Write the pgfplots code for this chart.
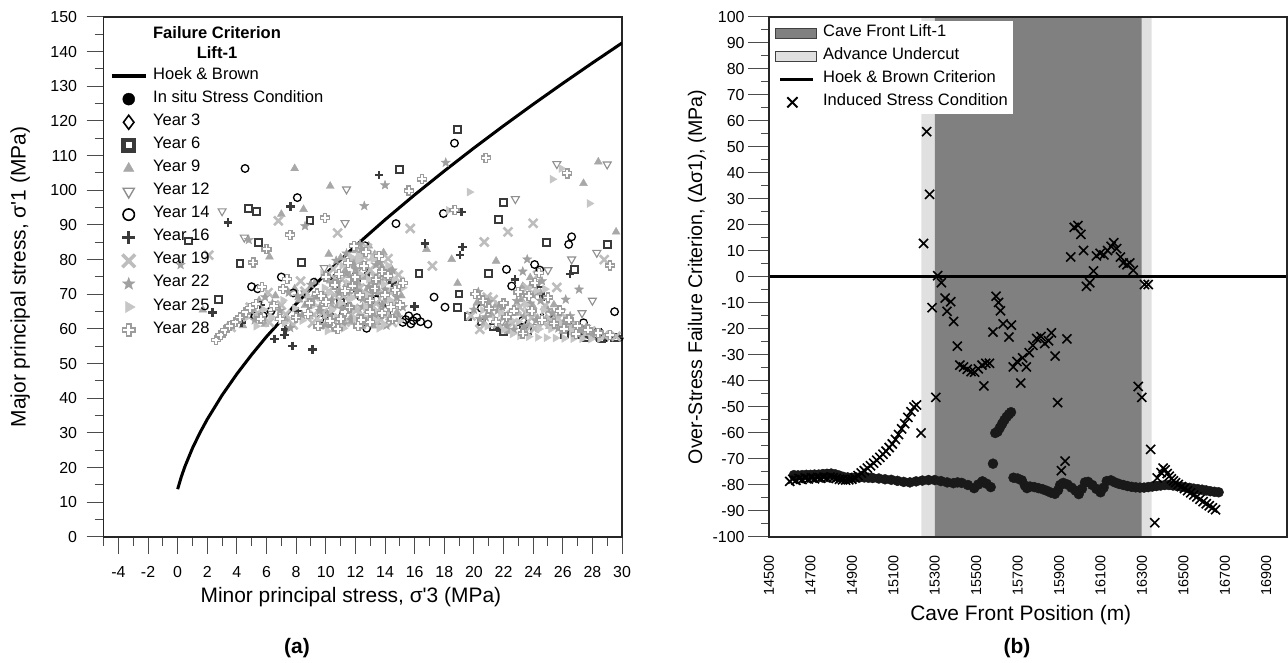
\documentclass[border=0pt]{standalone}
\usepackage{fontspec}
\setmainfont{Liberation Sans}
\usepackage{pgfplots}
\pgfplotsset{compat=1.18}
\usetikzlibrary{plotmarks}
\definecolor{cA}{HTML}{3A3A3A}
\definecolor{cNine}{HTML}{A8A8A8}
\definecolor{cTwelve}{HTML}{8F8F8F}
\definecolor{cNineteen}{HTML}{BDBDBD}
\definecolor{cTwentyTwo}{HTML}{A0A0A0}
\definecolor{cTwentyFive}{HTML}{C6C6C6}
\definecolor{cTwentyEight}{HTML}{9C9C9C}
\definecolor{cave}{HTML}{808080}
\definecolor{under}{HTML}{E0E0E0}

\pgfdeclareplotmark{fstar}{%
  \pgfpathmoveto{\pgfpointpolar{90}{\pgfplotmarksize}}%
  \pgfpathlineto{\pgfpointpolar{126}{0.42\pgfplotmarksize}}%
  \pgfpathlineto{\pgfpointpolar{162}{\pgfplotmarksize}}%
  \pgfpathlineto{\pgfpointpolar{198}{0.42\pgfplotmarksize}}%
  \pgfpathlineto{\pgfpointpolar{234}{\pgfplotmarksize}}%
  \pgfpathlineto{\pgfpointpolar{270}{0.42\pgfplotmarksize}}%
  \pgfpathlineto{\pgfpointpolar{306}{\pgfplotmarksize}}%
  \pgfpathlineto{\pgfpointpolar{342}{0.42\pgfplotmarksize}}%
  \pgfpathlineto{\pgfpointpolar{18}{\pgfplotmarksize}}%
  \pgfpathlineto{\pgfpointpolar{54}{0.42\pgfplotmarksize}}%
  \pgfpathclose
  \pgfusepathqfillstroke}
\pgfdeclareplotmark{ocross}{%
  \pgfpathmoveto{\pgfqpoint{-0.36\pgfplotmarksize}{\pgfplotmarksize}}%
  \pgfpathlineto{\pgfqpoint{0.36\pgfplotmarksize}{\pgfplotmarksize}}%
  \pgfpathlineto{\pgfqpoint{0.36\pgfplotmarksize}{0.36\pgfplotmarksize}}%
  \pgfpathlineto{\pgfqpoint{\pgfplotmarksize}{0.36\pgfplotmarksize}}%
  \pgfpathlineto{\pgfqpoint{\pgfplotmarksize}{-0.36\pgfplotmarksize}}%
  \pgfpathlineto{\pgfqpoint{0.36\pgfplotmarksize}{-0.36\pgfplotmarksize}}%
  \pgfpathlineto{\pgfqpoint{0.36\pgfplotmarksize}{-\pgfplotmarksize}}%
  \pgfpathlineto{\pgfqpoint{-0.36\pgfplotmarksize}{-\pgfplotmarksize}}%
  \pgfpathlineto{\pgfqpoint{-0.36\pgfplotmarksize}{-0.36\pgfplotmarksize}}%
  \pgfpathlineto{\pgfqpoint{-\pgfplotmarksize}{-0.36\pgfplotmarksize}}%
  \pgfpathlineto{\pgfqpoint{-\pgfplotmarksize}{0.36\pgfplotmarksize}}%
  \pgfpathlineto{\pgfqpoint{-0.36\pgfplotmarksize}{0.36\pgfplotmarksize}}%
  \pgfpathclose
  \pgfusepathqfillstroke}

\pgfplotsset{
  myaxis/.style={
    scale only axis, tick align=outside, tick pos=left,
    axis line style={line width=1.1bp, black!85},
    tick style={line width=1bp, black!70},
    tick label style={font=\fontsize{16}{19}\selectfont},
    /pgf/number format/assume math mode=true,
    /pgf/number format/1000 sep={},
    label style={font=\fontsize{21}{25}\selectfont},
    legend cell align=left,
  }
}

\begin{document}
\begin{tikzpicture}
\useasboundingbox (0bp,0bp) rectangle (1288bp,663bp);

%% ---------------- (a) ----------------
\begin{axis}[myaxis,
  at={(103.6bp,126bp)}, anchor=south west,
  width=518.4bp, height=520bp,
  xmin=-5, xmax=30, ymin=0, ymax=150,
  xtick={-4,-2,...,30}, minor xtick={-5,-3,...,29},
  ytick={0,10,...,150}, minor ytick={5,15,...,145},
  major tick length=17bp, minor tick length=9bp,
  xticklabel shift=9bp, yticklabel shift=6bp,
  xlabel={Minor principal stress, σ\textquotesingle 3 (MPa)},
  ylabel={Major principal stress, σ\textquotesingle 1 (MPa)},
  xlabel style={at={(axis description cs:0.477,-0.115)}, anchor=center},
  ylabel style={at={(axis description cs:-0.161,0.5)}, anchor=center},
  legend style={at={(axis description cs:0.0123,0.9087)}, anchor=north west,
    draw=none, fill=none, inner sep=0pt, outer sep=0pt, row sep=0bp, column sep=5.7bp,
    font=\fontsize{16.6}{19}\selectfont,
    nodes={inner sep=0pt, text height=14.55bp, text depth=8.55bp}},
  legend image code/.code={\draw[mark repeat=2,mark phase=2,#1]
     plot coordinates {(0bp,0bp) (17bp,0bp) (34bp,0bp)};},
]
\addlegendimage{black, line width=3.5bp}
\addlegendentry{Hoek \& Brown}

% In situ
\addplot[only marks, mark=*, mark size=2.8bp, black, legend image post style={mark size=6bp}] coordinates {
(28.4,57.0) (28.9,57.1) (29.4,57.2) (29.9,57.3)};
\addlegendentry{In situ Stress Condition}

% Year 3
\addplot[only marks, mark=diamond, mark size=2.2bp, black, line width=0.9bp,
  legend image post style={mark size=7bp, line width=1.6bp}] coordinates {
(24.6,64.1) (25.0,63.0) (25.4,62.1) (25.8,61.4) (26.2,60.8) (26.6,60.4) (27.0,60.1)
(27.4,59.9) (27.8,59.7) (28.2,59.6) (28.6,59.5) (12.2,69.0) (13.1,64.5) (10.8,71.5)};
\addlegendentry{Year 3}

% Year 6
\addplot[only marks, mark=square*, mark size=3.4bp, draw=cA, fill=white, line width=2bp,
  legend image post style={mark size=5.2bp, line width=4.2bp}] coordinates {
(18.9,117.6) (15.0,106.1) (22.0,96.4) (21.65,91.6) (24.9,84.9) (19.0,70.1) (21.0,76.0)
(18.9,66.2) (19.6,63.6) (20.5,62.0) (21.3,60.6) (22.0,59.3) (16.3,76.0) (24.5,71.2)
(26.8,77.2) (4.77,94.8) (5.33,94.0) (8.94,91.2) (5.45,84.9) (0.72,85.4) (4.21,79.0)
(8.38,79.2) (2.75,68.4) (29.0,84.3) (12.1,74.8) (13.3,70.6) (11.0,67.8) (14.1,65.6)
(10.2,63.9) (13.6,62.4) (26.1,58.4) (27.6,57.4) (28.6,57.3) (29.6,57.5) (23.6,59.4)};
\addlegendentry{Year 6}

% Year 9
\addplot[only marks, mark=triangle*, mark size=4.6bp, cNine, legend image post style={mark size=6bp}] coordinates {
(7.9,106.3) (10.3,101.2) (8.5,94.5) (7.0,93.1) (6.2,80.8) (10.2,81.6) (18.5,80.1)
(21.5,79.6) (18.9,73.2) (27.4,102.0) (28.4,108.2) (1.7,65.5) (29.6,88.0) (16.8,83.0)
(10.4,66.5) (10.9,71.2) (11.3,76.8) (11.7,63.4) (12.1,69.9) (12.4,79.5) (12.8,65.2)
(13.1,73.6) (13.5,61.8) (13.8,77.9) (14.1,68.3) (14.6,72.7) (11.0,60.5) (12.6,74.9)
(13.3,81.5) (5.5,68.2) (6.8,63.1) (7.9,71.6) (8.6,66.8) (9.3,73.5) (4.4,61.0)
(20.2,67.5) (21.2,64.0) (22.4,62.0) (23.2,68.5) (23.8,74.8) (24.3,63.1) (25.1,60.8)
(26.2,62.5) (27.1,59.4) (28.3,58.6) (29.0,58.2)
(9.7,61.5) (9.9,68.2) (10.3,73.9) (10.6,59.8) (10.8,66.7) (11.0,80.5) (11.4,72.9)
(11.8,61.9) (12.0,82.6) (12.3,64.4) (12.7,70.8) (12.9,84.0) (13.2,60.9) (13.6,70.5)
(13.9,82.0) (14.3,63.3) (14.4,77.6) (14.8,64.8) (15.1,69.6) (11.6,75.4) (10.1,64.1)
(13.1,67.9) (12.2,73.1) (14.0,74.8)
(5.9,61.4) (6.6,69.6) (7.4,62.8) (8.2,68.4) (8.9,63.5) (9.4,69.1)
(20.7,61.6) (21.5,66.9) (22.3,59.4) (22.8,64.6) (23.3,72.3) (23.7,61.2) (24.0,66.5)
(24.5,70.4) (24.9,63.1) (25.4,67.0) (26.0,59.3) (26.7,61.5) (27.5,58.4)};
\addlegendentry{Year 9}

% Year 12
\addplot[only marks, mark=triangle, mark size=4.6bp, cTwelve, line width=1.1bp, mark options={rotate=180},
  legend image post style={mark size=6.5bp, line width=1.4bp}] coordinates {
(11.4,100.3) (3.0,94.0) (11.3,90.6) (4.5,86.4) (25.6,107.6) (22.8,97.5) (26.6,80.1)
(25.0,77.0) (28.3,82.0) (28.0,68.2) (27.3,64.6) (29.0,107.5) (8.6,70.3) (6.3,64.4)
(12.9,66.5) (10.8,62.2) (14.2,74.3) (21.9,62.1) (24.2,60.6) (9.9,77.6)};
\addlegendentry{Year 12}

% Year 14
\addplot[only marks, mark=o, mark size=3.8bp, black, line width=1.3bp,
  legend image post style={mark size=5.7bp, line width=1.6bp}] coordinates {
(4.55,106.3) (8.08,97.9) (18.69,113.6) (17.94,93.3) (14.74,90.4) (12.65,84.0) (22.2,77.2)
(24.1,78.6) (24.45,77.0) (22.55,72.4) (26.6,86.6) (26.4,84.4) (17.31,69.2) (18.05,66.3)
(16.9,61.4) (12.76,60.2) (15.4,62.7) (15.6,63.8) (15.9,62.4) (16.15,63.3) (15.75,61.5)
(15.2,61.9) (16.4,62.1) (27.4,61.8) (4.77,64.2) (5.22,63.8) (5.78,63.8) (4.99,72.2)
(5.4,71.6) (7.0,75.0) (7.8,70.4) (9.6,62.8) (10.0,64.2) (10.4,63.4) (11.5,66.3)
(29.5,65.0) (13.4,68.4) (20.5,66.0) (23.3,62.5) (12.5,76.5) (9.2,73.5) (26.5,60.5) (6.3,65.2)};
\addlegendentry{Year 14}

% Year 16
\addplot[only marks, mark=+, mark size=4.3bp, cA, line width=2.6bp,
  legend image post style={mark size=6.5bp, line width=3.5bp}] coordinates {
(3.4,90.8) (7.63,95.3) (13.6,104.4) (16.7,84.7) (19.24,83.7) (19.06,81.3) (22.78,74.2)
(26.5,75.9) (24.7,69.3) (19.17,93.8) (2.35,64.8) (6.55,57.1) (7.2,58.3) (7.3,59.9)
(7.75,55.1) (9.1,54.0) (10.6,74.6) (11.9,71.8) (12.9,76.2) (9.0,67.3) (8.1,65.2)
(13.8,66.9) (14.5,73.4) (11.2,64.6) (23.1,61.2) (21.6,60.3) (25.3,63.5) (27.3,57.6)
(27.8,57.5) (28.3,57.4) (28.8,57.5) (29.3,57.6) (29.8,57.7) (16.0,66.5) (5.6,66.9) (4.3,61.8)};
\addlegendentry{Year 16}

% Year 19
\addplot[only marks, mark=x, mark size=6.2bp, cNineteen, line width=2.6bp,
  legend image post style={mark size=9bp, line width=3.5bp}] coordinates {
(6.8,91.2) (10.8,87.7) (2.1,81.3) (15.7,89.0) (20.7,85.1) (17.2,78.2) (25.6,72.0)
(22.3,88.0) (28.8,80.0) (24.0,90.5)
(10.1,62.4) (10.6,69.8) (11.1,74.3) (11.5,66.1) (11.9,80.2) (12.3,71.8) (12.7,62.9)
(13.0,77.1) (13.4,67.4) (13.7,73.2) (14.0,63.8) (14.4,70.5) (14.9,75.6) (12.1,65.5) (13.2,81.0)
(4.9,66.3) (6.1,70.5) (7.3,64.2) (8.3,73.8) (9.1,61.7) (9.7,69.4) (3.6,60.5)
(19.8,63.8) (20.9,69.2) (21.6,61.5) (22.9,65.6) (23.6,71.9) (24.1,60.2) (24.8,66.7)
(25.7,63.1) (26.5,60.6) (27.6,58.9) (28.8,58.1) (29.6,57.9)
(9.8,64.6) (10.2,70.9) (10.5,77.3) (10.9,63.1) (11.2,69.6) (11.5,79.2) (11.9,65.9)
(12.4,61.3) (12.6,80.9) (12.9,68.8) (13.3,75.0) (13.5,65.2) (13.9,70.1) (14.2,80.3)
(14.6,67.6) (15.0,73.6) (10.7,74.2) (12.1,76.6) (13.7,62.7) (11.3,62.0) (14.5,61.9) (12.8,83.3)
(5.4,64.6) (6.2,61.9) (7.0,66.9) (7.8,61.2) (8.6,70.9) (9.2,64.1)
(20.4,59.9) (21.3,68.5) (22.1,64.1) (22.6,61.6) (23.1,66.3) (23.5,59.3) (23.9,63.2)
(24.3,75.5) (24.7,61.8) (25.2,62.6) (25.9,64.6) (26.8,59.5) (27.9,59.4)};
\addlegendentry{Year 19}

% Year 22
\addplot[only marks, mark=fstar, mark size=4.8bp, cTwentyTwo, line width=0.4bp,
  legend image post style={mark size=6.5bp}] coordinates {
(8.6,89.7) (4.8,85.7) (0.2,78.5) (18.1,108.0) (23.3,76.6) (27.1,71.4) (20.3,70.7)
(21.0,67.8) (12.6,95.5) (14.0,101.5) (12.3,84.5) (26.2,68.5) (23.6,80.1)
(10.3,64.8) (10.8,73.5) (11.2,61.4) (11.6,70.1) (12.0,77.3) (12.5,66.4) (12.9,72.2)
(13.3,63.6) (13.6,79.1) (14.0,71.4) (14.3,65.9) (14.8,69.2) (11.4,81.8)
(5.2,62.5) (6.4,67.4) (7.6,60.3) (8.1,69.5) (9.0,72.8) (9.6,65.2)
(20.4,62.9) (21.9,66.3) (22.7,59.8) (23.4,63.7) (24.0,69.8) (24.6,73.8) (25.3,64.6)
(26.0,61.4) (27.2,59.6) (28.0,58.4)
(9.6,66.4) (10.0,61.0) (10.4,68.3) (10.7,79.7) (11.1,65.9) (11.4,76.1) (11.7,62.7)
(12.1,71.1) (12.4,83.0) (12.8,61.5) (13.1,70.3) (13.4,78.5) (13.8,67.1) (14.1,61.0)
(14.5,76.9) (14.9,63.4) (15.2,66.3) (10.9,70.4) (12.5,68.7) (13.6,73.9) (11.9,78.7)
(5.0,65.2) (5.9,69.2) (6.9,65.3) (7.5,70.5) (8.4,64.0) (9.1,68.9)
(20.0,65.6) (20.8,63.4) (21.6,65.3) (22.2,61.0) (22.9,68.1) (23.4,60.7) (23.8,67.4)
(24.2,62.5) (24.5,68.2) (25.0,65.5) (25.7,60.2) (26.5,63.7) (27.6,60.7)};
\addlegendentry{Year 22}

% Year 25
\addplot[only marks, mark=triangle*, mark size=4.6bp, cTwentyFive, mark options={rotate=-90},
  legend image post style={mark size=6.5bp}] coordinates {
(25.9,106.3) (25.3,103.2) (18.3,94.2) (19.7,99.5) (27.8,96.2)
(10.2,70.4) (10.7,63.2) (11.1,78.3) (11.6,68.6) (12.0,63.0) (12.4,75.6) (12.8,69.8)
(13.2,65.4) (13.5,75.0) (13.9,61.2) (14.2,78.3) (14.7,66.9) (15.2,71.9) (12.2,81.0)
(4.6,63.2) (5.8,65.6) (7.1,68.3) (8.4,62.4) (9.2,66.9) (9.8,76.1)
(20.6,65.4) (21.4,62.7) (22.0,59.8) (22.6,58.6) (23.1,58.0) (23.7,57.8) (24.3,57.6)
(24.9,57.5) (25.5,57.4) (26.1,57.3) (26.7,57.2) (27.3,57.2) (27.9,57.1) (28.5,57.2)
(23.5,67.0) (24.2,71.0) (24.7,65.5) (25.6,62.2)
(9.9,71.9) (10.1,59.4) (10.4,65.6) (10.8,76.0) (11.2,60.2) (11.5,73.2) (11.8,69.0)
(12.2,79.9) (12.5,63.7) (12.9,74.4) (13.2,80.1) (13.6,60.2) (13.9,72.9) (14.3,68.4)
(14.6,74.3) (15.0,62.4) (11.0,67.5) (12.7,66.3) (13.3,62.6) (14.0,64.5) (11.7,80.8)
(5.3,60.8) (6.3,63.5) (7.2,61.7) (7.9,66.0) (8.8,69.0) (9.5,62.3)
(20.9,60.8) (21.8,64.5) (22.5,62.6) (23.0,62.1) (23.6,65.0) (23.9,72.4) (24.4,60.0)
(24.8,71.5) (25.2,60.0) (25.9,61.2) (26.6,59.4)};
\addlegendentry{Year 25}

% Year 28
\addplot[only marks, mark=ocross, mark size=4.5bp, draw=cTwentyEight, fill=white, line width=1.4bp,
  legend image post style={mark size=6.2bp, line width=1.8bp}] coordinates {
(20.8,109.4) (16.5,103.2) (15.6,99.9) (26.3,104.9) (9.95,92.1) (7.6,87.2) (5.1,79.2)
(6.0,83.0) (18.7,94.3) (29.2,78.3)
(2.6,56.8) (2.9,58.2) (3.2,59.6) (3.5,60.8) (3.9,62.0) (4.2,63.3) (4.6,64.8) (4.9,66.0) (5.3,67.2)
(10.0,67.8) (10.5,61.1) (10.9,75.9) (11.3,65.0) (11.8,72.5) (12.2,60.8) (12.6,78.1)
(13.0,68.2) (13.4,74.3) (13.8,64.5) (14.2,75.4) (14.5,62.8) (15.0,67.0) (11.5,79.0) (13.0,62.0)
(5.7,72.1) (6.9,62.9) (7.4,74.4) (8.8,64.3) (9.4,70.2)
(20.1,70.1) (21.0,65.9) (22.2,63.4) (23.0,70.6) (23.9,65.2) (24.4,76.2) (25.0,69.1)
(25.8,65.3) (26.4,62.7) (27.0,60.9) (27.7,59.8) (28.4,58.9) (29.2,58.3)
(9.7,69.5) (10.0,75.1) (10.3,62.4) (10.6,72.8) (11.0,62.9) (11.3,71.0) (11.6,66.2)
(12.0,74.9) (12.3,69.7) (12.7,82.2) (13.0,65.0) (13.3,71.7) (13.6,81.1) (14.0,69.9)
(14.4,66.3) (14.7,71.2) (15.2,73.3) (10.8,60.0) (12.4,62.7) (13.8,76.6) (11.9,84.0)
(5.6,63.0) (6.5,66.6) (7.1,71.6) (8.0,63.3) (8.9,67.4) (9.5,60.8)
(20.6,68.2) (21.5,62.0) (22.0,67.4) (22.7,65.3) (23.3,58.7) (23.7,69.6) (24.1,73.2)
(24.6,62.6) (25.4,61.6) (26.1,60.1) (26.9,58.5)};
\addlegendentry{Year 28}

% Hoek & Brown curve
\addplot[black, line width=3bp, forget plot] coordinates {
(0,13.80) (0.25,17.41) (0.5,20.45) (1,25.62) (1.5,30.03) (2,33.96) (3,40.91) (4,47.04)
(5,52.62) (6,57.80) (8,67.28) (10,75.92) (12,83.95) (14,91.51) (16,98.70) (18,105.57)
(20,112.20) (22,118.60) (24,124.81) (26,130.85) (28,136.74) (30,142.50)};
\end{axis}

\node[font=\fontsize{16.6}{20}\selectfont\bfseries, align=center] at (217bp,620bp)
  {Failure Criterion\\Lift-1};
\node[font=\fontsize{21}{25}\selectfont\bfseries] at (297bp,15bp) {(a)};

%% ---------------- (b) ----------------
\begin{axis}[myaxis,
  at={(769bp,126bp)}, anchor=south west,
  width=518bp, height=520bp,
  xmin=14500, xmax=17000, ymin=-100, ymax=100,
  xtick=\empty, minor xtick={14500,14600,...,17000},
  ytick={-100,-90,...,100}, minor ytick={-95,-85,...,95},
  major tick length=21bp, minor tick length=8bp,
  axis on top,
  xlabel={Cave Front Position (m)},
  ylabel={Over-Stress Failure Criterion, (Δσ1), (MPa)},
  xlabel style={at={(axis description cs:0.486,-0.15)}, anchor=center},
  ylabel style={at={(axis description cs:-0.139,0.5)}, anchor=center, font=\fontsize{19.7}{23}\selectfont},
  legend style={at={(axis description cs:0.0019,0.9914)}, anchor=north west,
    draw=none, fill=white, inner xsep=5bp, inner ysep=0bp, outer sep=0pt, row sep=0bp, column sep=6.3bp,
    font=\fontsize{16.6}{19}\selectfont,
    nodes={inner sep=0pt, text height=14.55bp, text depth=8.55bp}},
  legend image code/.code={\draw[mark repeat=2,mark phase=2,#1]
     plot coordinates {(5bp,0bp) (17bp,0bp) (38bp,0bp)};},
]
\addplot[fill=under, draw=none, forget plot] coordinates {
(15235,-100) (15235,100) (16346,100) (16346,-100) (15235,-100)};
\addplot[fill=cave, draw=none,
  legend image code/.code={\draw[fill=cave, draw=black!75, line width=0.8bp] (0bp,-5bp) rectangle (41bp,5bp);}]
  coordinates {(15300,-100) (15300,100) (16298,100) (16298,-100) (15300,-100)};
\addlegendentry{Cave Front Lift-1}
\addlegendimage{legend image code/.code={\draw[fill=under, draw=black!75, line width=0.8bp] (0bp,-5bp) rectangle (41bp,5bp);}}
\addlegendentry{Advance Undercut}
\addplot[black, line width=3bp] coordinates {(14500,0) (17000,0)};
\addlegendentry{Hoek \& Brown Criterion}

% in situ (dots)
\addplot[only marks, mark=*, mark size=5bp, black!90, forget plot] coordinates {
(14620,-76.2) (14640,-76.3) (14660,-76.2) (14680,-76.1) (14700,-76.1) (14720,-76.0)
(14740,-76.0) (14760,-75.8) (14780,-75.7) (14800,-75.6) (14820,-75.9) (14840,-76.4)
(14860,-76.9) (14880,-77.1) (14900,-77.2) (14920,-77.1) (14940,-77.0) (14960,-77.1)
(14980,-77.2) (15000,-77.3) (15030,-77.5) (15060,-77.8) (15090,-78.0) (15120,-78.4)
(15150,-78.8) (15180,-79.0) (15210,-78.6) (15240,-78.3) (15270,-78.1) (15300,-78.1)
(15330,-78.5) (15360,-79.0) (15390,-79.3) (15410,-79.0) (15430,-79.2) (15460,-80.0)
(15490,-81.2) (15510,-79.8) (15530,-78.6) (15550,-79.5) (15570,-80.8)
(15581,-71.8)
(15592,-60.0) (15603,-59.5) (15614,-58.0) (15625,-56.5) (15636,-55.0) (15647,-53.8)
(15658,-52.8) (15668,-52.0)
(15680,-77.2) (15700,-77.5) (15720,-78.2) (15735,-80.2) (15745,-81.2) (15760,-80.6)
(15780,-80.8) (15800,-81.2) (15820,-81.6) (15840,-82.2) (15860,-82.9) (15880,-83.4)
(15895,-82.0) (15905,-80.0) (15920,-79.2) (15940,-79.8) (15960,-81.0) (15980,-82.2)
(15995,-83.5) (16010,-81.5) (16025,-79.0) (16040,-78.8) (16060,-80.0) (16080,-81.5)
(16100,-82.8) (16115,-81.0) (16130,-78.5) (16150,-78.2) (16170,-79.0) (16190,-79.6)
(16210,-80.0) (16230,-80.4) (16250,-80.7) (16270,-80.9) (16290,-81.0) (16310,-81.0)
(16330,-80.8) (16350,-80.6) (16370,-80.4) (16390,-80.2) (16410,-80.0) (16430,-80.0)
(16450,-80.2) (16470,-80.4) (16490,-80.7) (16510,-80.9) (16530,-81.1) (16550,-81.4)
(16570,-81.6) (16590,-81.8) (16610,-82.1) (16630,-82.4) (16650,-82.6) (16670,-82.8)};

% induced
\addplot[only marks, mark=x, mark size=6.4bp, black, line width=1.6bp,
  legend image post style={mark size=7.2bp, line width=2bp}] coordinates {
(14600,-78.6) (14615,-77.8) (14630,-78.2) (14645,-77.5) (14660,-77.9) (14675,-77.3)
(14690,-77.7) (14705,-77.2) (14720,-77.6) (14735,-77.1) (14750,-77.4) (14765,-77.0)
(14780,-77.3) (14795,-77.0) (14810,-77.2) (14825,-77.5) (14840,-77.8) (14855,-78.0)
(14870,-78.1) (14885,-78.0) (14900,-77.8) (14915,-77.3)
(14930,-76.4) (14945,-75.4) (14960,-74.5) (14975,-73.5) (14990,-72.6) (15005,-71.6)
(15020,-70.5) (15035,-69.4) (15050,-68.2) (15065,-67.0) (15080,-65.6) (15095,-64.2)
(15110,-62.5) (15125,-60.6) (15140,-58.4) (15155,-56.4) (15170,-54.0) (15185,-51.8)
(15200,-50.0) (15212,-49.2)
(15234,-60.0) (15246,12.9) (15261,55.9) (15275,31.8) (15287,-11.8) (15305,-46.3)
(15314,0.5) (15332,-2.2) (15350,-8.1) (15359,-13.2) (15377,-9.5) (15391,-17.1)
(15409,-26.6) (15421,-33.9) (15439,-34.6) (15457,-35.5) (15475,-36.4) (15492,-36.6)
(15510,-35.3) (15528,-33.9) (15546,-33.2) (15564,-33.2) (15537,-41.9) (15581,-21.2)
(15596,-7.4) (15608,-9.8) (15617,-13.0) (15630,-18.0) (15670,-18.5) (15658,-23.1)
(15679,-34.6) (15697,-32.5) (15715,-40.8) (15724,-31.1) (15742,-34.6) (15756,-29.1)
(15774,-26.3) (15792,-23.6) (15813,-22.9) (15831,-25.6) (15849,-24.5) (15863,-21.5)
(15881,-30.4) (15893,-48.3) (15911,-74.5) (15929,-70.8) (15938,-23.8) (15956,7.7)
(15973,19.1) (15991,19.8) (16005,16.4) (16018,10.2) (16032,-3.6) (16048,-2.2)
(16066,2.3) (16080,8.1) (16098,9.1) (16116,8.5) (16134,10.2) (16151,11.8)
(16164,13.2) (16178,10.9) (16196,7.7) (16210,5.4) (16228,4.7) (16241,5.4)
(16258,2.6) (16282,-42.1) (16299,-46.3) (16312,-2.9) (16330,-2.9) (16342,-66.3)
(16362,-94.5) (16374,-77.3)
(16392,-75.2) (16402,-73.5) (16412,-74.2) (16422,-75.6) (16432,-76.6) (16442,-77.6)
(16452,-78.4) (16462,-79.1) (16475,-79.8) (16490,-80.6) (16505,-81.4) (16520,-82.2)
(16535,-83.0) (16550,-83.8) (16565,-84.6) (16580,-85.5) (16595,-86.4) (16610,-87.2)
(16625,-88.0) (16640,-88.8) (16655,-89.5)};
\addlegendentry{Induced Stress Condition}
\end{axis}

% x tick labels of (b)
\begin{axis}[myaxis,
  at={(769bp,126bp)}, anchor=south west,
  width=518bp, height=520bp,
  xmin=14500, xmax=17000, ymin=-100, ymax=100,
  scaled x ticks=false,
  axis y line=none, axis x line*=bottom, x axis line style={draw=none},
  xtick={14500,14700,...,16900}, major tick length=0pt, xtick style={draw=none},
  xticklabel style={rotate=90, anchor=east, inner sep=0pt, font=\fontsize{14.4}{17}\selectfont},
  xticklabel shift=18bp,
]
\end{axis}

\node[font=\fontsize{21}{25}\selectfont\bfseries] at (1017bp,15bp) {(b)};
\end{tikzpicture}
\end{document}
